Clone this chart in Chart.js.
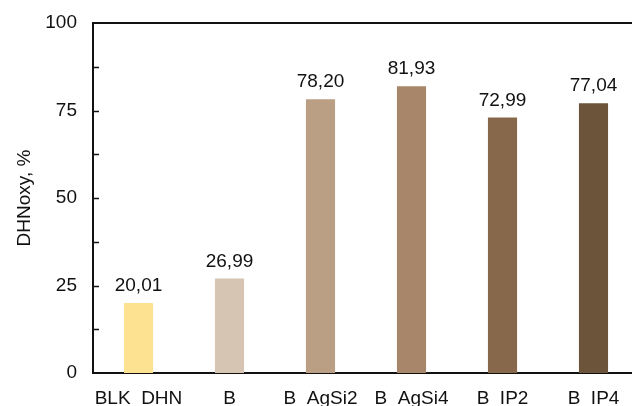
<!DOCTYPE html>
<html>
<head>
<meta charset="utf-8">
<script src="https://cdn.jsdelivr.net/npm/chart.js@4"></script>
<style>
  html, body { margin: 0; padding: 0; background: #fff; overflow: hidden; }
  #wrap { width: 632px; height: 406px; overflow: hidden; }
</style>
</head>
<body>
<div id="wrap"><canvas id="chart" width="640" height="406"></canvas></div>
<script>
// data
const categories = ['BLK  DHN', 'B', 'B  AgSi2', 'B  AgSi4', 'B  IP2', 'B  IP4'];
const values = [20.01, 26.99, 78.20, 81.93, 72.99, 77.04];
const barColors = ['#FDE292', '#D6C5B2', '#BB9F85', '#A7866A', '#87684A', '#6B543A'];
const yTicks = [0, 25, 50, 75, 100];

const FONT = 'Liberation Sans, Arial, sans-serif';
const TXT = '#111';

// value labels above the bars (comma decimal)
const valueLabels = {
  id: 'valueLabels',
  afterDatasetsDraw(chart) {
    const ctx = chart.ctx;
    const meta = chart.getDatasetMeta(0);
    ctx.save();
    ctx.font = '19px ' + FONT;
    ctx.fillStyle = TXT;
    ctx.textAlign = 'center';
    ctx.textBaseline = 'alphabetic';
    meta.data.forEach((bar, i) => {
      ctx.fillText(values[i].toFixed(2).replace('.', ','), bar.x, bar.y - 12);
    });
    ctx.restore();
  }
};

// top frame line + inside tick marks on the y axis
const frame = {
  id: 'frame',
  afterDraw(chart) {
    const ctx = chart.ctx;
    const a = chart.chartArea;
    const y = chart.scales.y;
    ctx.save();
    ctx.strokeStyle = '#111';
    ctx.lineWidth = 2;
    ctx.beginPath();
    ctx.moveTo(a.left - 1, a.top);
    ctx.lineTo(a.right, a.top);
    ctx.stroke();
    ctx.lineWidth = 1.5;
    for (let v = 12.5; v < 100; v += 12.5) {
      const py = Math.round(y.getPixelForValue(v)) + 0.5;
      ctx.beginPath();
      ctx.moveTo(a.left, py);
      ctx.lineTo(a.left + 6, py);
      ctx.stroke();
    }
    ctx.restore();
  }
};

new Chart(document.getElementById('chart'), {
  type: 'bar',
  data: {
    labels: categories,
    datasets: [{
      data: values,
      backgroundColor: barColors,
      categoryPercentage: 1,
      barPercentage: 0.32
    }]
  },
  options: {
    responsive: false,
    animation: false,
    devicePixelRatio: 1,
    layout: { padding: { top: 23, right: 1, left: 0, bottom: 0 } },
    plugins: { legend: { display: false }, tooltip: { enabled: false } },
    scales: {
      x: {
        grid: { display: false },
        border: { display: true, color: '#111', width: 2 },
        ticks: { color: TXT, font: { family: FONT, size: 19 }, padding: 6, maxRotation: 0 },
        afterFit: s => { s.height = 33; }
      },
      y: {
        min: 0,
        max: 100,
        afterBuildTicks: s => { s.ticks = yTicks.map(v => ({ value: v })); },
        grid: { display: false },
        border: { display: true, color: '#111', width: 2 },
        ticks: { color: TXT, font: { family: FONT, size: 19 }, padding: 8 },
        title: {
          display: true,
          text: 'DHNoxy, %',
          color: TXT,
          font: { family: FONT, size: 19 },
          padding: { top: 13, bottom: 0 }
        },
        afterFit: s => { s.width = 93; }
      }
    }
  },
  plugins: [valueLabels, frame]
});
</script>
</body>
</html>
